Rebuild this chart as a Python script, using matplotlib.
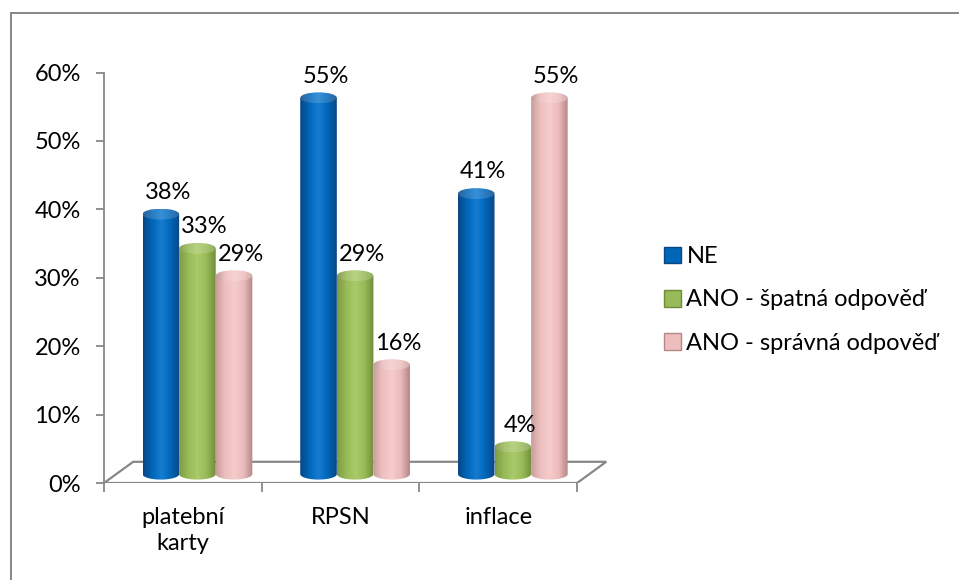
import numpy as np
import matplotlib.pyplot as plt
from matplotlib.patches import Polygon, Ellipse, Patch
from matplotlib.colors import LinearSegmentedColormap, to_rgb
from matplotlib.lines import Line2D

plt.rcParams['font.family'] = ['Lato', 'DejaVu Sans']

categories = ['platební\nkarty', 'RPSN', 'inflace']
series = ['NE', 'ANO - špatná odpověď', 'ANO - správná odpověď']
ne = [38, 55, 41]
spatna = [33, 29, 4]
spravna = [29, 16, 55]
values = [ne, spatna, spravna]

# colour ramp across each cylinder: dark edge -> body -> highlight -> body -> dark edge
shades = [
    ['#0a4584', '#0066b8', '#167cd0', '#0066b8', '#0a4584'],
    ['#7d9c42', '#98ba58', '#abca6a', '#98ba58', '#6f8c38'],
    ['#c89c9c', '#eebebe', '#f5cccc', '#ecbaba', '#b48686'],
]
mid_colors = ['#0066b8', '#98ba58', '#eebebe']
edge_colors = ['#0a4584', '#6f8c38', '#b48686']
gray = '#878787'
fs = 17


def lighter(c, k):
    r, g, b = to_rgb(c)
    return (r + (1 - r) * k, g + (1 - g) * k, b + (1 - b) * k)


fig = plt.figure(figsize=(9.59, 5.8), dpi=100)
ax = fig.add_axes([104 / 959, 97 / 580, 504.6 / 959, 410.5 / 580])

depth_x, depth_y = 0.185, 3.1
base = 1.3
w = 0.232
cap = 1.6
grad = np.linspace(0, 1, 256).reshape(1, -1)

# floor of the 3d plot
floor = Polygon([(-0.5, 0), (2.5, 0), (2.5 + depth_x, depth_y), (-0.5 + depth_x, depth_y)],
                closed=True, fc='white', ec=gray, lw=1.6, zorder=1)
ax.add_patch(floor)

for s, vals in enumerate(values):
    cmap = LinearSegmentedColormap.from_list('body%d' % s, shades[s])
    cmap_top = LinearSegmentedColormap.from_list('top%d' % s, [lighter(c, 0.15) for c in shades[s]])
    for i, v in enumerate(vals):
        xc = i + depth_x / 2 + (s - 1) * w
        x0, x1 = xc - w / 2, xc + w / 2
        top = v + base
        z = 2 + s
        t = np.linspace(np.pi, 2 * np.pi, 60)
        arc = np.column_stack([xc + w / 2 * np.cos(t), base + cap / 2 * np.sin(t)])
        body = Polygon(np.vstack([arc, [[x1, top], [x0, top]]]), closed=True,
                       fc='none', ec='none', zorder=z)
        ax.add_patch(body)
        im = ax.imshow(grad, cmap=cmap, extent=(x0, x1, base - cap / 2, top),
                       aspect='auto', interpolation='bicubic', zorder=z)
        im.set_clip_path(body)
        lid = Ellipse((xc, top), w, cap, fc='none', ec='none', zorder=z + 0.1)
        ax.add_patch(lid)
        im2 = ax.imshow(grad[:, ::-1], cmap=cmap_top, extent=(x0, x1, top - cap / 2, top + cap / 2),
                        aspect='auto', interpolation='bicubic', zorder=z + 0.1)
        im2.set_clip_path(lid)
        ax.annotate('%d%%' % v, (xc, top), xytext=(5, 8), textcoords='offset points',
                    ha='center', va='bottom', fontsize=fs, zorder=10)

ax.set_xlim(-0.5, 2.7)
ax.set_ylim(0, 60)

ax.set_yticks(range(0, 61, 10))
ax.set_yticklabels(['%d%%' % t for t in range(0, 61, 10)])
ax.tick_params(axis='y', length=5.8, width=1.3, color=gray, pad=11, labelsize=fs)

ax.set_xticks([0, 1, 2])
ax.set_xticklabels(categories, linespacing=1.3)
ax.set_xticks([-0.5, 0.5, 1.5, 2.5], minor=True)
ax.tick_params(axis='x', which='major', length=0, pad=17, labelsize=fs)
ax.tick_params(axis='x', which='minor', length=6.5, width=1.3, color=gray)

for side in ['top', 'right', 'bottom']:
    ax.spines[side].set_visible(False)
ax.spines['left'].set_color(gray)
ax.spines['left'].set_linewidth(1.3)

handles = [Patch(fc=mid_colors[k], ec=edge_colors[k], lw=1.0, label=series[k]) for k in range(3)]
fig.legend(handles=handles, loc='center left', bbox_to_anchor=(664 / 959, 1 - 300 / 580),
           frameon=False, fontsize=fs, handlelength=0.7, handleheight=0.7,
           handletextpad=0.25, labelspacing=0.95, borderpad=0, borderaxespad=0)

# chart area border
fig.add_artist(Line2D([11 / 959, 11 / 959], [0, 1 - 13 / 580], color=gray, lw=1.4))
fig.add_artist(Line2D([11 / 959, 1], [1 - 13 / 580, 1 - 13 / 580], color=gray, lw=1.4))

fig.savefig('out.png', dpi=100)
